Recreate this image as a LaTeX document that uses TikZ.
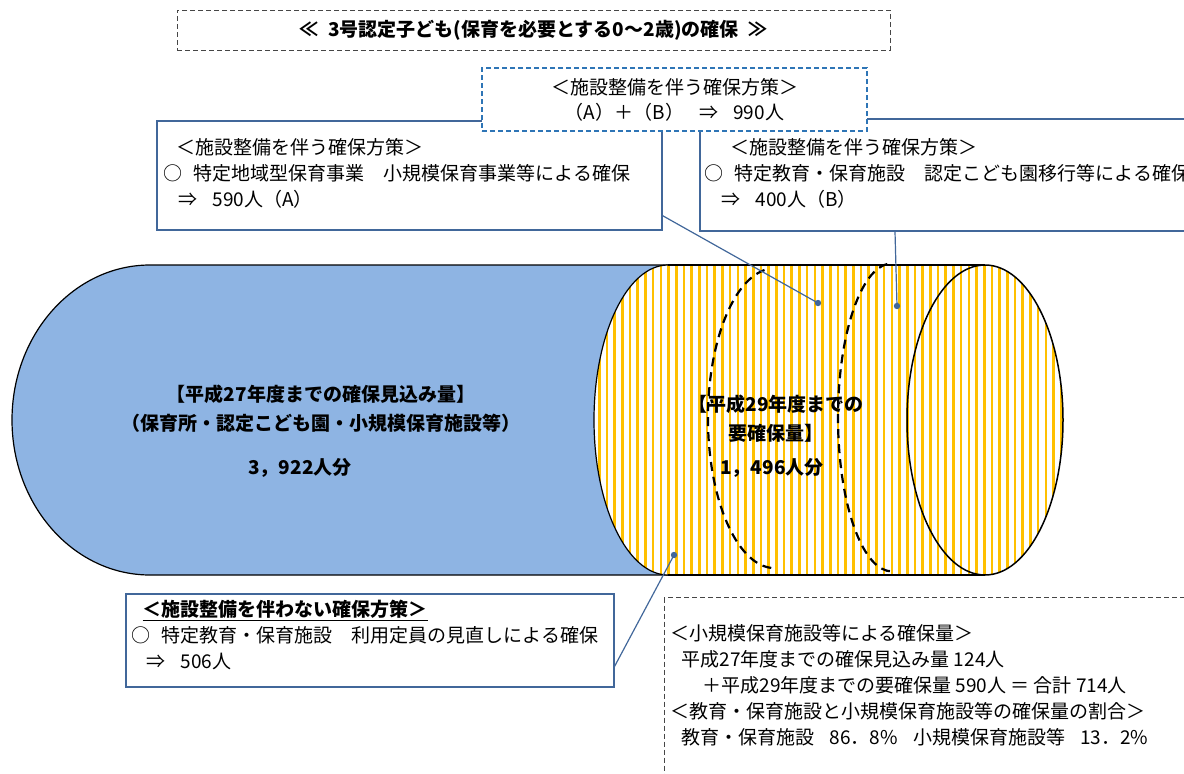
\documentclass[tikz,border=0pt]{standalone}
\usepackage{fontspec}
\setmainfont{Noto Sans CJK JP}
\usepackage{tikz}
\usetikzlibrary{calc}
\definecolor{capblue}{RGB}{142,180,227}
\definecolor{stripeyel}{RGB}{255,192,0}
\definecolor{linkblue}{RGB}{65,103,154}
\definecolor{dashblue}{RGB}{46,117,182}
\definecolor{dashgray}{RGB}{70,70,70}
\tikzstyle{box} = [draw=linkblue, line width=1.5, fill=white, inner sep=0]
\tikzstyle{dashbox} = [draw=dashgray, dash pattern=on 5 off 3, line width=1, inner sep=0]
\tikzstyle{txt} = [inner sep=0, align=left, font=\fontsize{19}{26}\selectfont]
\tikzstyle{boldtxt} = [inner sep=0, align=center, font=\fontsize{19}{29}\selectfont\bfseries]
\tikzstyle{link} = [draw=linkblue, line width=1.2]
\tikzstyle{stripe} = [draw=stripeyel, line width=2.6]
\newcommand{\drawstripes}{\foreach \i in {0,...,62}
	\draw[stripe] ({591.5+\i*7.7},250) -- ++(0,340)}
\newcommand{\drawdot}[1]{\fill[linkblue] (#1) circle (3.2)}

\begin{document}
\begin{tikzpicture}[x=1pt, y=-1pt]
	\useasboundingbox (0,0) rectangle (1184,774);
	
	% cylinder, blue part
	\draw[fill=capblue, line width=1.2] (150,265) -- (668,265) -- (668,575) -- (150,575)
		arc (90:270:138 and 155) -- cycle;
	% cylinder, striped part
	\fill[white] (668,420) ellipse [x radius=74, y radius=155];
	\fill[white] (668,265) rectangle (985,575);
	\fill[white] (985,420) ellipse [x radius=78, y radius=155];
	\begin{scope}
		\clip (668,420) ellipse [x radius=74, y radius=155];
		\drawstripes;
	\end{scope}
	\begin{scope}
		\clip (668,265) rectangle (985,575);
		\drawstripes;
	\end{scope}
	\begin{scope}
		\clip (985,420) ellipse [x radius=78, y radius=155];
		\drawstripes;
	\end{scope}
	\draw[line width=1.2] (668,265) -- (985,265) (668,575) -- (985,575);
	\draw[line width=1.2] (668,265) arc (270:90:74 and 155);
	\draw[line width=1.5] (985,420) ellipse [x radius=78, y radius=155];
	\draw[line width=2.2, dash pattern=on 9 off 6] (764.5,270) arc (261:90:67 and 150);
	\draw[line width=2.2, dash pattern=on 9 off 6] (887.3,264) arc (265:90:54 and 154);
	
	\node[boldtxt] (oldAmt) at (321,409) {【平成27年度までの確保見込み量】\\（保育所・認定こども園・小規模保育施設等）};
	\node[boldtxt] (oldNum) at (300,468) {3，922人分};
	\node[boldtxt] (newAmt) at (776,419) {【平成29年度までの\\要確保量】};
	\node[boldtxt] (newNum) at (772,468) {1，496人分};
	
	% title
	\node[dashbox, minimum width=713, minimum height=40,
		font=\fontsize{19}{22}\selectfont\bfseries] (title) at (533.5,30)
		{≪\hspace{0.5em}3号認定子ども(保育を必要とする0〜2歳)の確保\hspace{0.5em}≫};
	
	% boxes with facilities
	\node[box, minimum width=505, minimum height=109] (boxA) at (409.5,175.5) {};
	\node[txt, anchor=north west] (txtA) at (163,138)
		{\hspace{0.7em}＜施設整備を伴う確保方策＞\\○\hspace{0.6em}特定地域型保育事業\hspace{1.0em}小規模保育事業等による確保\\\hspace{0.8em}⇒\hspace{0.8em}590人（A）};
	\node[box, minimum width=501, minimum height=112, anchor=north west] (boxB) at (699,118) {};
	\node[txt, anchor=north west] (txtB) at (704,138)
		{\hspace{1.4em}＜施設整備を伴う確保方策＞\\○\hspace{0.6em}特定教育・保育施設\hspace{1.0em}認定こども園移行等による確保\\\hspace{0.9em}⇒\hspace{0.8em}400人（B）};
	\node[box, draw=dashblue, dash pattern=on 5 off 3, minimum width=385, minimum height=63,
		align=center, font=\fontsize{19}{25}\selectfont] (boxAB) at (674.5,99.5)
		{＜施設整備を伴う確保方策＞\\（A）＋（B）\hspace{0.8em}⇒\hspace{0.8em}990人};
	
	% box without facilities
	\node[box, minimum width=488, minimum height=93, anchor=north west] (boxC) at (125,593) {};
	\node[txt, anchor=north west] (txtC) at (131,600)
		{\hspace{0.6em}\textbf{\underline{＜施設整備を伴わない確保方策＞}}\\○\hspace{0.6em}特定教育・保育施設\hspace{1.0em}利用定員の見直しによる確保\\\hspace{0.8em}⇒\hspace{0.8em}506人};
	
	% small facilities note
	\node[dashbox, minimum width=540, minimum height=200, anchor=north west] (boxD) at (664,597) {};
	\node[txt, anchor=north west] (txtD) at (670,624)
		{＜小規模保育施設等による確保量＞\\\hspace{0.6em}平成27年度までの確保見込み量 124人\\\hspace{1.7em}＋平成29年度までの要確保量 590人 ＝ 合計 714人\\＜教育・保育施設と小規模保育施設等の確保量の割合＞\\\hspace{0.6em}教育・保育施設\hspace{0.8em}86．8\%\hspace{0.8em}小規模保育施設等\hspace{0.8em}13．2\%};
	
	% connectors
	\coordinate (dotA) at (818,303);
	\coordinate (dotB) at (897,306);
	\coordinate (dotC) at (674,555);
	\draw[link] ($(boxA.south east)+(0,-15)$) -- (dotA);
	\draw[link] ($(boxB.south west)+(196,0)$) -- (dotB);
	\draw[link] ($(boxC.south east)+(0,-21)$) -- (dotC);
	\drawdot{dotA};
	\drawdot{dotB};
	\drawdot{dotC};
\end{tikzpicture}
\end{document}
